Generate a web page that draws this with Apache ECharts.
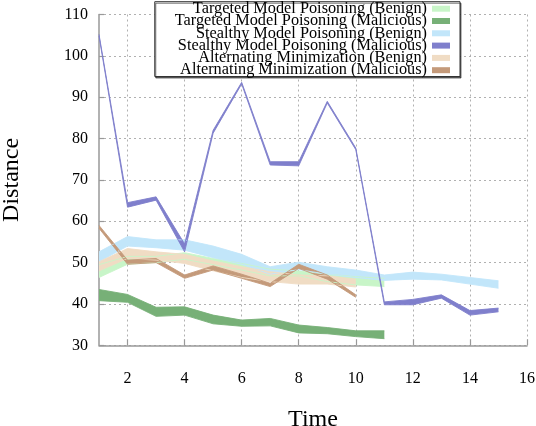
<!DOCTYPE html>
<html><head><meta charset="utf-8">
<script src="https://cdn.jsdelivr.net/npm/echarts@6/dist/echarts.min.js"></script>
<style>html,body{margin:0;padding:0;background:#fff}#c{width:536px;height:426px}</style>
</head><body><div id="c"></div>
<script>
// Time steps (category axis, 1..16)
const times = ['1','2','3','4','5','6','7','8','9','10','11','12','13','14','15','16'];
const xTickLabels = ['2','4','6','8','10','12','14','16'];

const seriesNames = [
  'Targeted Model Poisoning (Benign)',
  'Targeted Model Poisoning (Malicious)',
  'Stealthy Model Poisoning (Benign)',
  'Stealthy Model Poisoning (Malicious)',
  'Alternating Minimization (Benign)',
  'Alternating Minimization (Malicious)'
];
const seriesColors = ['#c8f5c8', '#77b077', '#c2e6fa', '#7f7fcc', '#f0dcc4', '#c49a7a'];

// band lower / upper values
const tmpBenignLow  = [46.4, 49.6, 50.0, 50.8, 49.5, 48.2, 46.8, 46.8, 45.4, 44.6, 44.2];
const tmpBenignHigh = [49.5, 51.5, 51.5, 52.4, 51.0, 49.8, 48.4, 48.0, 47.2, 46.6, 46.2];

const tmpMalLow  = [40.8, 40.4, 37.0, 37.3, 35.2, 34.6, 34.7, 33.0, 32.8, 32.1, 31.6];
const tmpMalHigh = [43.5, 42.3, 39.2, 39.3, 37.3, 36.1, 36.5, 34.9, 34.3, 33.5, 33.5];

const smpBenignLow  = [50.2, 54.0, 53.6, 53.0, 51.2, 49.6, 47.2, 48.3, 47.2, 46.4, 45.7, 46.0, 45.8, 44.8, 43.8];
const smpBenignHigh = [52.6, 56.3, 55.5, 55.5, 54.0, 52.0, 49.0, 50.1, 49.0, 48.2, 47.0, 47.7, 47.2, 46.4, 45.6];

const smpMalLow  = [104.8, 63.4, 65.1, 52.6, 81.3, 93.2, 73.6, 73.4, 88.6, 77.3, 39.8, 39.8, 41.4, 37.3, 38.1];
const smpMalHigh = [105.2, 64.5, 65.9, 54.5, 82.0, 93.6, 74.4, 74.4, 89.0, 77.7, 40.5, 41.1, 42.2, 38.4, 39.0];

const amBenignLow  = [48.0, 51.0, 50.6, 49.8, 48.0, 46.4, 45.4, 44.8, 44.8, 44.1];
const amBenignHigh = [50.2, 53.4, 52.6, 52.0, 50.4, 49.0, 47.8, 47.0, 46.8, 46.0];

const amMalLow  = [58.3, 49.6, 50.0, 46.2, 48.2, 46.2, 44.2, 48.6, 46.0, 41.6];
const amMalHigh = [59.0, 50.6, 51.0, 47.0, 49.2, 47.2, 45.0, 49.6, 47.0, 42.2];

const bandLows  = [tmpBenignLow, tmpMalLow, smpBenignLow, smpMalLow, amBenignLow, amMalLow];
const bandHighs = [tmpBenignHigh, tmpMalHigh, smpBenignHigh, smpMalHigh, amBenignHigh, amMalHigh];

const FONT = 'Liberation Serif';
const isShown = (i, v) => xTickLabels.indexOf(String(v)) >= 0;

const series = [];
seriesNames.forEach((name, k) => {
  const c = seriesColors[k];
  const low = bandLows[k], high = bandHighs[k];
  series.push({
    name: name + ' lower', type: 'line', stack: 'band' + k, data: low,
    symbol: 'none', silent: true, color: c,
    lineStyle: { color: c, width: 0.9 }
  });
  series.push({
    name: name, type: 'line', stack: 'band' + k,
    data: high.map((h, i) => +(h - low[i]).toFixed(2)),
    symbol: 'none', silent: true, color: c,
    lineStyle: { color: c, width: 0.9 },
    areaStyle: { color: c, opacity: 1 }
  });
});

const chart = echarts.init(document.getElementById('c'), null, { renderer: 'canvas' });
chart.setOption({
  animation: false,
  backgroundColor: '#fff',
  textStyle: { fontFamily: FONT },
  grid: { left: 99, right: 9, top: 14.5, bottom: 80.7, containLabel: false, outerBoundsMode: 'none' },
  legend: {
    data: seriesNames,
    orient: 'vertical', align: 'right',
    right: 76, top: 1.7,
    padding: [-1, 10, -1.7, 20],
    itemGap: -3.7, itemWidth: 18, itemHeight: 6,
    icon: 'rect',
    backgroundColor: '#fff',
    borderColor: '#333', borderWidth: 1,
    shadowColor: 'rgba(0,0,0,0.55)', shadowOffsetX: 1, shadowOffsetY: 1.5, shadowBlur: 0,
    textStyle: { fontFamily: FONT, fontSize: 16.3, color: '#000' },
    selectedMode: false
  },
  xAxis: {
    type: 'category', data: times, boundaryGap: false,
    name: 'Time', nameLocation: 'middle', nameGap: 62,
    nameTextStyle: { fontFamily: FONT, fontSize: 24, color: '#000' },
    axisLine: { lineStyle: { color: '#999', width: 1.5 } },
    axisTick: { inside: true, length: 6, interval: isShown, lineStyle: { color: '#999', width: 1.2 } },
    axisLabel: { interval: isShown, margin: 25, fontFamily: FONT, fontSize: 16, color: '#000' },
    splitLine: { show: true, interval: isShown, lineStyle: { color: '#b0b0b0', width: 1, type: [2, 3] } }
  },
  yAxis: {
    type: 'value', min: 30, max: 110, interval: 10,
    name: 'Distance', nameLocation: 'middle', nameGap: 75, nameRotate: 90,
    nameTextStyle: { fontFamily: FONT, fontSize: 24, color: '#000' },
    axisLine: { show: true, lineStyle: { color: '#999', width: 1.5 } },
    axisTick: { show: true, inside: true, length: 5, lineStyle: { color: '#999', width: 1.2 } },
    axisLabel: { margin: 11, fontFamily: FONT, fontSize: 16, color: '#000' },
    splitLine: { show: true, lineStyle: { color: '#b0b0b0', width: 1, type: [2, 3] } }
  },
  series: series
});
</script>
</body></html>
